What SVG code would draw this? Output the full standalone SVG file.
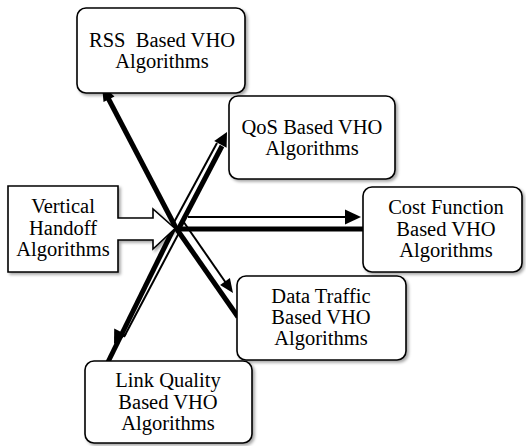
<svg xmlns="http://www.w3.org/2000/svg" width="526" height="446" viewBox="0 0 526 446">
<defs>
<filter id="sh" x="-10%" y="-10%" width="130%" height="130%">
<feDropShadow dx="2" dy="2" stdDeviation="1.5" flood-color="#000" flood-opacity="0.35"/>
</filter>
<style>
.box{fill:#fff;stroke:#000;stroke-width:1.6;filter:url(#sh)}
.thick{stroke:#000;stroke-width:5;fill:none}
.thin{stroke:#000;stroke-width:2;fill:none}
.head{fill:#000;stroke:none}
</style>
</defs>
<rect width="526" height="446" fill="#fff"/>

<g id="connectors">
  <line class="thick" x1="176" y1="228" x2="107" y2="96"/>
  <polygon class="head" points="102,85 114.5,96.5 103.5,102"/>
  <line class="thick" x1="178" y1="230" x2="222" y2="146"/>
  <line class="thin" x1="172" y1="226" x2="217" y2="143"/>
  <polygon class="head" points="227,132 226.6,147.7 214.2,141.1"/>
  <line class="thick" x1="176" y1="229" x2="364" y2="229"/>
  <line class="thin" x1="188" y1="217" x2="348" y2="217"/>
  <polygon class="head" points="361,217 345,209.5 345,224.5"/>
  <line class="thick" x1="176" y1="228" x2="238" y2="317"/>
  <line class="thin" x1="183" y1="221" x2="226" y2="283"/>
  <polygon class="head" points="233,293 229.9,278.1 220.1,284.9"/>
  <line class="thick" x1="174" y1="228" x2="108" y2="362"/>
  <line class="thin" x1="181" y1="229" x2="124" y2="337"/>
  <polygon class="head" points="114,344 126.6,334.8 114.2,328.4"/>
</g>

<g font-family="'Liberation Serif', 'Times New Roman', 'DejaVu Serif', serif" font-size="20.5" text-anchor="middle" fill="#000">
<g id="vertical">
  <path class="box" d="M8,186 H118 V218 H153 V209 L175,228.5 L153,249 V240 H118 V272 H8 Z"/>
  <text x="63" y="213">Vertical</text>
  <text x="63" y="235">Handoff</text>
  <text x="63" y="256">Algorithms</text>
</g>

<g id="rss">
  <rect class="box" x="77" y="8" width="168" height="85" rx="9"/>
  <text x="162" y="47" xml:space="preserve">RSS  Based VHO</text>
  <text x="162" y="68">Algorithms</text>
</g>

<g id="qos">
  <rect class="box" x="229" y="96" width="166" height="83" rx="9"/>
  <text x="312" y="134">QoS Based VHO</text>
  <text x="312" y="155">Algorithms</text>
</g>

<g id="cost">
  <rect class="box" x="363" y="187" width="159" height="85" rx="9"/>
  <text x="446" y="214">Cost Function</text>
  <text x="446" y="236">Based VHO</text>
  <text x="446" y="257">Algorithms</text>
</g>

<g id="datatraffic">
  <rect class="box" x="237" y="276" width="169" height="84" rx="9"/>
  <text x="321" y="303">Data Traffic</text>
  <text x="321" y="324">Based VHO</text>
  <text x="321" y="345">Algorithms</text>
</g>

<g id="linkquality">
  <rect class="box" x="85" y="361" width="167" height="82" rx="9"/>
  <text x="168" y="387">Link Quality</text>
  <text x="168" y="409">Based VHO</text>
  <text x="168" y="430">Algorithms</text>
</g>
</g>
</svg>
